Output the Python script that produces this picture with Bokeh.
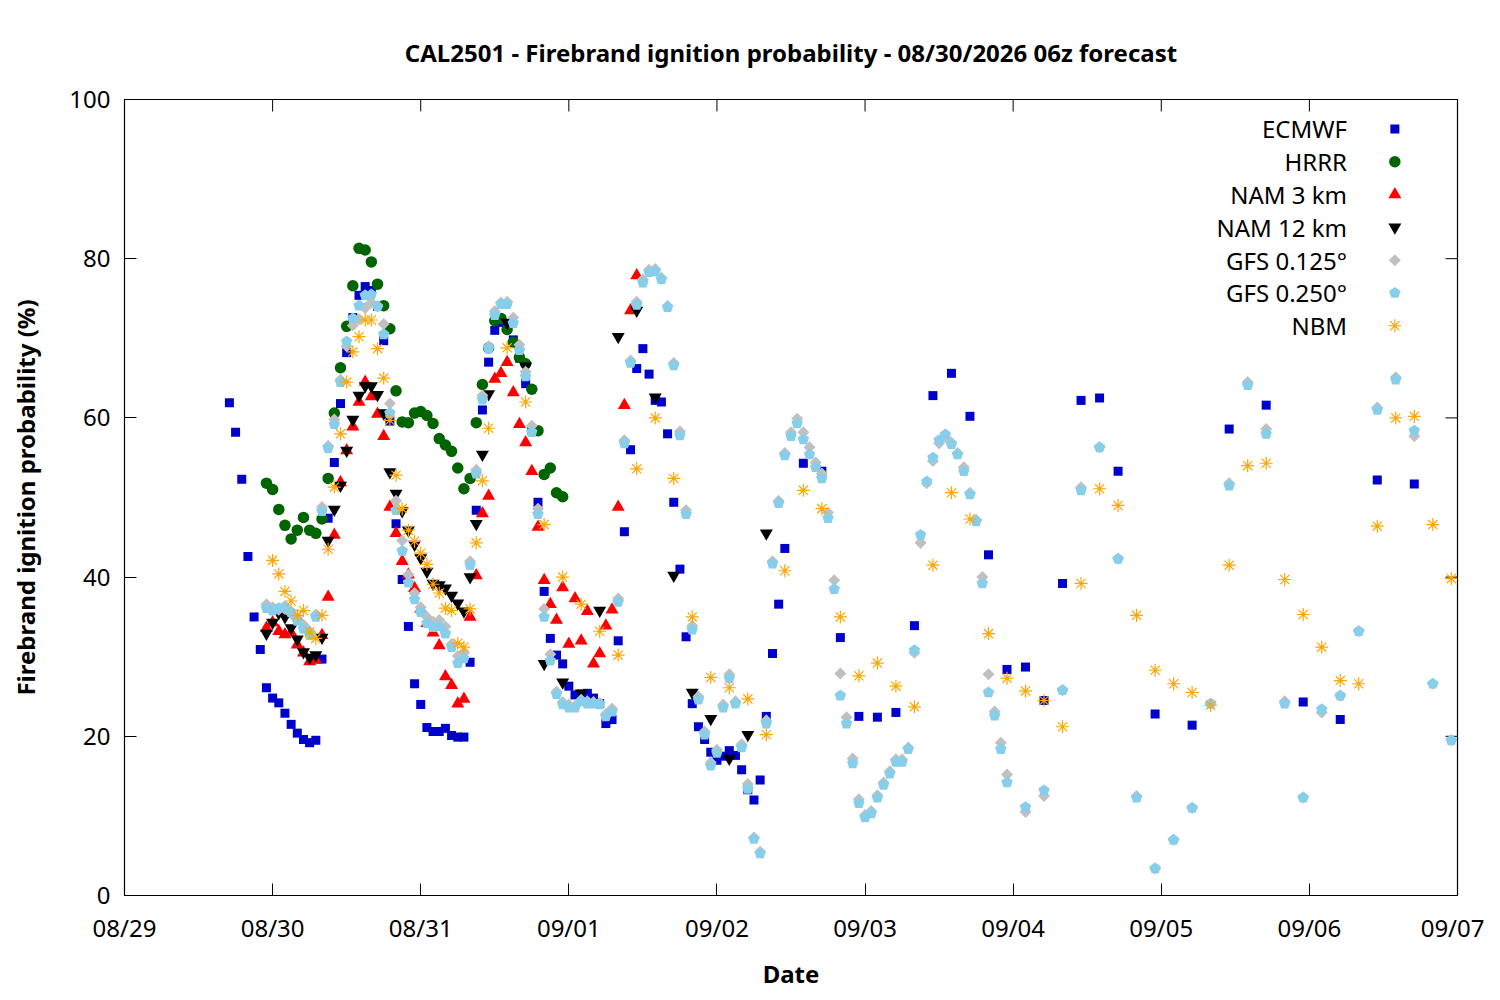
import numpy as np
from bokeh.plotting import figure
from bokeh.models import Range1d, FixedTicker, Label
from bokeh.embed import file_html
from bokeh.resources import INLINE

FONT = "Noto Sans"

# x values are hours after 08/29 00:00
day_labels = ["08/29", "08/30", "08/31", "09/01", "09/02",
              "09/03", "09/04", "09/05", "09/06", "09/07"]

ecmwf_hours = list(range(17, 108)) + list(range(110, 162, 3)) + list(range(167, 210, 6))
ecmwf_prob = [
    61.9, 58.2, 52.3, 42.6, 35.0, 30.9, 26.1, 24.8, 24.2, 22.9,
    21.5, 20.4, 19.6, 19.2, 19.5, 29.7, 47.4, 54.4, 61.8, 68.2,
    72.6, 75.4, 76.5, 76.0, 74.0, 69.7, 59.6, 46.7, 39.7, 33.8,
    26.6, 24.0, 21.1, 20.6, 20.6, 21.0, 20.1, 19.9, 19.9, 29.3,
    48.4, 61.0, 67.0, 71.0, 72.0, 71.5, 69.8, 67.5, 64.3, 58.4,
    49.4, 38.2, 32.3, 30.2, 29.1, 26.3, 25.2, 25.3, 25.4, 24.8,
    24.1, 21.6, 22.1, 32.0, 45.7, 56.0, 66.2, 68.7, 65.5, 62.2,
    62.0, 58.0, 49.4, 41.0, 32.5, 24.1, 21.2, 19.6, 18.0, 17.0,
    17.5, 18.2, 17.6, 15.8, 13.3, 12.0, 14.5, 22.5, 30.4, 36.6,
    43.6,
    54.3, 53.3, 32.4, 22.5, 22.4, 23.0, 33.9, 62.8, 65.6, 60.2,
    42.8, 28.4, 28.7, 24.5, 39.2, 62.2, 62.5, 53.3,
    22.8, 21.4, 58.6, 61.6, 24.3, 22.1, 52.2, 51.7,
]

hrrr_hours = list(range(23, 72))
hrrr_prob = [
    51.8, 51.0, 48.5, 46.5, 44.8, 45.9, 47.5, 45.9, 45.5, 47.3,
    52.4, 60.6, 66.3, 71.5, 76.6, 81.3, 81.1, 79.6, 76.8, 74.1,
    71.2, 63.4, 59.5, 59.4, 60.6, 60.8, 60.3, 59.3, 57.4, 56.6,
    55.8, 53.7, 51.1, 52.4, 59.4, 64.2, 68.8, 72.2, 72.5, 71.1,
    69.5, 67.6, 66.8, 63.6, 58.4, 52.9, 53.7, 50.6, 50.1,
]

nam3_hours = list(range(23, 84))
nam3_prob = [
    33.6, 34.3, 33.2, 32.8, 33.0, 31.5, 30.5, 29.4, 29.6, 32.7,
    37.5, 45.3, 51.9, 55.9, 58.9, 62.0, 64.5, 62.7, 60.5, 57.7,
    48.8, 45.5, 42.0, 40.3, 38.6, 36.0, 34.2, 33.0, 31.4, 27.5,
    26.4, 24.1, 24.7, 35.0, 40.2, 48.0, 50.2, 64.9, 65.6, 67.0,
    63.2, 59.2, 56.9, 53.3, 46.3, 39.6, 36.6, 34.6, 38.7, 31.6,
    37.3, 32.0, 35.7, 29.1, 30.4, 33.9, 35.9, 48.8, 61.6, 73.5,
    77.9,
]

nam12_hours = list(range(23, 60)) + list(range(62, 105, 3))
nam12_prob = [
    32.9, 34.3, 35.5, 35.0, 33.6, 32.2, 30.6, 29.9, 30.2, 32.4,
    44.6, 48.5, 51.5, 55.9, 59.8, 62.8, 64.0, 64.0, 62.9, 60.6,
    53.2, 50.5, 48.3, 45.9, 44.1, 42.4, 40.7, 39.2, 39.0, 38.6,
    37.7, 36.7, 35.7, 40.0, 46.7, 55.4, 63.0,
    72.0, 66.5, 29.1, 26.8, 25.4, 35.8, 70.2, 73.5, 62.6, 40.2,
    25.5, 22.2, 17.2, 20.2, 45.5,
]

gfs_hours = list(range(23, 144)) + list(range(146, 216, 3))
gfs125_prob = [
    36.6, 36.2, 35.9, 36.0, 35.4, 34.9, 34.0, 33.2, 35.3, 48.8,
    56.5, 59.8, 64.8, 69.0, 71.6, 72.4, 73.8, 74.5, 74.0, 71.8,
    61.8, 49.6, 44.6, 40.3, 38.0, 36.2, 35.0, 34.4, 34.6, 33.8,
    31.6, 30.1, 30.5, 42.0, 53.5, 62.8, 69.0, 73.4, 74.5, 74.6,
    72.6, 69.2, 65.8, 59.0, 48.6, 36.0, 30.3, 25.6, 24.3, 24.0,
    23.8, 24.6, 24.4, 24.3, 24.2, 22.8, 23.5, 37.3, 57.2, 67.2,
    74.6, 77.4, 78.6, 78.7, 77.6, 74.1, 66.9, 58.3, 48.4, 33.9,
    25.0, 20.6, 16.7, 18.3, 24.0, 27.8, 24.4, 19.0, 14.0, 7.3,
    5.5, 22.0, 42.0, 49.6, 55.6, 58.2, 59.9, 58.2, 56.3, 54.4,
    53.0, 48.1, 39.6, 27.9, 22.4, 17.2, 12.1, 10.1, 10.6, 12.6,
    14.2, 15.6, 17.1, 17.1, 18.6, 30.5, 44.3, 51.8, 54.6, 56.8,
    57.6, 56.9, 55.6, 53.8, 50.6, 47.2, 40.0, 27.8, 23.1, 19.2,
    15.2,
    10.5, 12.5, 25.8, 51.3, 56.3, 42.3, 12.5, 3.4, 7.0, 11.0,
    24.1, 51.8, 64.5, 58.6, 24.4, 12.3, 23.0, 25.1, 33.2, 61.3,
    65.1, 57.7, 26.6, 19.5,
]
gfs250_prob = [
    36.1, 35.8, 36.1, 36.3, 35.6, 34.5, 33.5, 32.7, 35.0, 48.3,
    56.2, 59.2, 64.5, 69.6, 72.5, 74.1, 75.4, 75.5, 74.0, 70.5,
    60.6, 48.4, 43.3, 39.3, 37.2, 35.6, 34.2, 33.7, 33.8, 32.9,
    31.2, 29.2, 29.8, 41.5, 53.0, 62.3, 68.7, 72.9, 74.3, 74.3,
    71.9, 68.5, 65.2, 58.2, 47.9, 35.0, 29.5, 25.3, 24.0, 23.6,
    23.6, 24.4, 24.1, 24.1, 24.0, 22.5, 23.1, 36.9, 56.8, 66.9,
    74.2, 77.0, 78.3, 78.4, 77.4, 73.9, 66.6, 57.8, 47.9, 33.4,
    24.6, 20.2, 16.3, 17.9, 23.6, 27.3, 24.1, 18.6, 13.4, 7.1,
    5.3, 21.6, 41.7, 49.3, 55.3, 57.7, 59.3, 57.3, 55.4, 53.8,
    52.4, 47.4, 38.5, 25.1, 21.6, 16.6, 11.6, 9.8, 10.3, 12.3,
    13.9, 15.3, 16.8, 16.8, 18.4, 30.8, 45.3, 52.0, 55.0, 57.2,
    57.9, 56.7, 55.4, 53.3, 50.4, 47.0, 39.2, 25.5, 22.6, 18.4,
    14.2,
    11.1, 13.2, 25.8, 50.9, 56.3, 42.3, 12.3, 3.4, 7.0, 11.0,
    24.1, 51.5, 64.1, 58.0, 24.1, 12.3, 23.4, 25.1, 33.2, 61.0,
    64.8, 58.4, 26.6, 19.5,
]

nbm_hours = list(range(24, 60)) + list(range(62, 216, 3))
nbm_prob = [
    42.1, 40.4, 38.2, 37.0, 35.2, 35.8, 33.1, 32.3, 35.2, 43.5,
    51.3, 58.0, 64.5, 68.3, 70.2, 72.3, 72.3, 68.7, 65.0, 59.7,
    52.8, 48.6, 45.9, 44.5, 43.0, 41.6, 39.1, 38.0, 36.1, 35.8,
    31.7, 31.2, 36.0, 44.3, 52.1, 58.7,
    68.8, 62.0, 46.6, 40.0, 36.6, 33.2, 30.2, 53.6, 60.0, 52.4,
    35.0, 27.4, 26.1, 24.7, 20.2, 40.8, 50.9, 48.6, 35.0, 27.6,
    29.2, 26.3, 23.7, 41.5, 50.6, 47.3, 32.9, 27.3, 25.7, 24.5,
    21.2, 39.2, 51.1, 49.0, 35.2, 28.3, 26.6, 25.5, 23.9, 41.5,
    54.0, 54.3, 39.7, 35.3, 31.2, 27.0, 26.6, 46.4, 60.0, 60.2,
    46.6, 39.8,
]

model_names = ["ECMWF", "HRRR", "NAM 3 km", "NAM 12 km",
               "GFS 0.125°", "GFS 0.250°", "NBM"]

X_END, Y_END = 216, 100
day_ticks = [24 * i for i in range(len(day_labels))]
prob_ticks = [0, 20, 40, 60, 80, 100]

p = figure(width=1484, height=992, output_backend="svg", toolbar_location=None,
           x_range=Range1d(0, X_END), y_range=Range1d(0, Y_END),
           min_border_left=124, min_border_right=27,
           min_border_top=99, min_border_bottom=97,
           title="CAL2501 - Firebrand ignition probability - 08/30/2026 06z forecast",
           x_axis_label="Date", y_axis_label="Firebrand ignition probability (%)")

p.title.text_font = FONT
p.title.text_font_size = "24px"
p.title.text_font_style = "bold"
p.title.text_color = "black"
p.title.align = "center"
p.title.standoff = 62

p.grid.visible = False
p.outline_line_color = "black"
p.outline_line_width = 1.2
p.background_fill_color = "white"
p.border_fill_color = "white"

p.xaxis.ticker = FixedTicker(ticks=day_ticks)
p.xaxis.major_label_overrides = {t: lab for t, lab in zip(day_ticks, day_labels)}
p.yaxis.ticker = FixedTicker(ticks=prob_ticks)

for ax in (p.xaxis[0], p.yaxis[0]):
    ax.axis_line_color = None
    ax.major_tick_in = 12
    ax.major_tick_out = 0
    ax.major_tick_line_color = "black"
    ax.minor_tick_line_color = None
    ax.major_label_text_font = FONT
    ax.major_label_text_font_size = "24px"
    ax.major_label_text_color = "black"
    ax.axis_label_text_font = FONT
    ax.axis_label_text_font_size = "24px"
    ax.axis_label_text_font_style = "bold"
    ax.axis_label_text_color = "black"
p.xaxis.major_label_standoff = 15
p.xaxis.axis_label_standoff = 10
p.yaxis.major_label_standoff = 14
p.yaxis.axis_label_standoff = 24

# mirrored ticks on the top and right edges of the frame
p.ray(x=day_ticks, y=[Y_END] * len(day_ticks), length=12, length_units="screen",
      angle=-np.pi / 2, line_color="black", line_width=1)
p.ray(x=[X_END] * len(prob_ticks), y=prob_ticks, length=12, length_units="screen",
      angle=np.pi, line_color="black", line_width=1)

# one style per model, in drawing order
styles = [
    dict(marker="square", size=9, fill_color="#0000cc", line_color=None),
    dict(marker="circle", size=11.5, fill_color="#006400", line_color=None),
    dict(marker="triangle", size=13, fill_color="#ff0000", line_color=None),
    dict(marker="inverted_triangle", size=13, fill_color="black", line_color=None),
    dict(marker="square", angle=np.pi / 4, size=8.5, fill_color="#c0c0c0", line_color=None),
    None,  # pentagon, drawn with ngon
    dict(marker="asterisk", size=13, line_color="#ffa500", line_width=1.2),
]
pent_style = dict(radius=6, radius_units="screen", n=5, fill_color="#87ceeb", line_color=None)

series = [(ecmwf_hours, ecmwf_prob), (hrrr_hours, hrrr_prob), (nam3_hours, nam3_prob),
          (nam12_hours, nam12_prob), (gfs_hours, gfs125_prob), (gfs_hours, gfs250_prob),
          (nbm_hours, nbm_prob)]

for (xs, ys), st in zip(series, styles):
    if st is None:
        p.ngon(xs, ys, **pent_style)
    else:
        p.scatter(xs, ys, **st)

# key in the upper right: name right-aligned, then its marker
key_text_x = 198.1
key_mark_x = 205.85
key_top_y = 96.3
key_step = 32.8 / 7.96
for i, (name, st) in enumerate(zip(model_names, styles)):
    ky = key_top_y - i * key_step
    p.add_layout(Label(x=key_text_x, y=ky, text=name,
                       text_align="right", text_baseline="middle",
                       text_font=FONT, text_font_size="24px", text_color="black"))
    if st is None:
        p.ngon([key_mark_x], [ky], **pent_style)
    else:
        p.scatter([key_mark_x], [ky], **st)

open("out.html", "w").write(file_html(p, INLINE))
